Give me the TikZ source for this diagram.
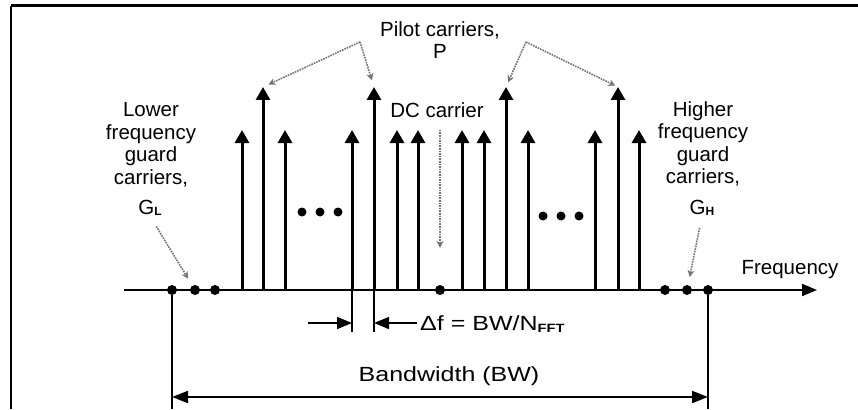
\documentclass[tikz,border=0pt]{standalone}
\usepackage{fontspec}
\setmainfont{Liberation Sans}
\usetikzlibrary{arrows.meta, positioning}
\definecolor{pointgray}{RGB}{115,115,115}
\newcommand{\lowidx}[1]{\raisebox{-1.5pt}{\fontsize{12}{12}\selectfont\bfseries #1}}

\begin{document}
\begin{tikzpicture}[x=1pt, y=-1pt,
    carrier/.style={line width=3pt, -{Triangle[length=13pt, width=14pt]}},
    pointer/.style={pointgray, densely dotted, line width=1.6pt, -{Stealth[length=7pt, width=7pt]}},
    lbl/.style={font=\fontsize{20.5}{22.5}\selectfont, align=center, inner sep=0pt},
    dot/.style={circle, fill, inner sep=0pt, minimum size=10pt}]
        \useasboundingbox (0,0) rectangle (858,409);
        %\draw [step=50, very thin, lightgray] (0,0) grid (858,409);
        \draw [line width=3pt] (11,6) -- (858,6);
        \draw [line width=2pt] (11,409) -- (11,6);

        % frequency axis
        \coordinate (f0) at (124,290);
        \coordinate (f1) at (817,290);
        \draw [line width=2pt, -{Triangle[length=15pt, width=12pt]}] (f0) -- (f1);
        \node [lbl] (freq) at (790,270) {Frequency};

        % data and pilot carriers
        \foreach \x/\h [count=\i] in {242/130, 263/87, 285/130, 352/130, 374/87, 397/130, 418/130,
            462/130, 484/130, 506/87, 528/130, 595/130, 618/87, 639/130}{
            \coordinate (c\i) at (\x,290);
            \coordinate (t\i) at (\x,\h);
            \draw [carrier] (c\i) -- (t\i);
        }
        \foreach \x in {302,320,338} \fill (\x,212) circle (4.5pt);
        \foreach \x in {543,561,579} \fill (\x,216) circle (4.5pt);

        % guard carriers and DC
        \foreach \x [count=\i] in {172,195,215} \node [dot] (gl\i) at (\x,290) {};
        \foreach \x [count=\i] in {665,687,708} \node [dot] (gh\i) at (\x,290) {};
        \node [dot] (dc) at (440,290) {};

        % labels
        \node [lbl] (pilot) at (440,40) {Pilot carriers,\\P};
        \coordinate (pa) at (360,42);
        \coordinate (pb) at (526,42);
        \draw [pointer, shorten >=6pt] (pa) -- (t2);
        \draw [pointer, shorten >=7pt] (pa) -- (t5);
        \draw [pointer, shorten >=5pt] (pb) -- (t10);
        \draw [pointer, shorten >=3pt] (pb) -- (t13);

        \node [lbl] (dclbl) at (437,110) {DC carrier};
        \draw [pointer, shorten <=12pt, shorten >=37pt] (dclbl.south -| dc) -- (dc);

        \node [lbl] (lower) at (151,145) {Lower\\frequency\\guard\\carriers,};
        \node [lbl] (gl) at (150,208) {G\lowidx{L}};
        \draw [pointer, shorten <=12pt, shorten >=8pt] (gl.south) -- (gl2);

        \node [lbl] (higher) at (703,144) {Higher\\frequency\\guard\\carriers,};
        \node [lbl] (gh) at (702,208) {G\lowidx{H}};
        \draw [pointer, shorten <=12pt, shorten >=8pt] (gh.south) -- (gh2);

        % carrier spacing
        \coordinate (s1) at (352,332);
        \coordinate (s2) at (374,332);
        \draw [line width=1.5pt] (c4) -- (s1);
        \draw [line width=1.5pt] (c5) -- (s2);
        \node [lbl, anchor=west] (df) at (420,324) {\scalebox{1.22}[1]{Δf = BW/N\lowidx{FFT}}};
        \draw [line width=1.5pt, -{Triangle[length=15pt, width=12pt]}] ([xshift=-44pt, yshift=9pt]s1) -- ([yshift=9pt]s1);
        \draw [line width=1.5pt, -{Triangle[length=15pt, width=12pt]}] ([xshift=-3pt, yshift=9pt]df.west |- s2) -- ([yshift=9pt]s2);

        % bandwidth
        \coordinate (b1) at (172,409);
        \coordinate (b2) at (708,409);
        \draw [line width=1.5pt] (gl1) -- (b1);
        \draw [line width=1.5pt] (gh3) -- (b2);
        \draw [line width=2pt, {Triangle[length=16pt, width=12pt]}-{Triangle[length=16pt, width=12pt]}] ([yshift=12pt]b1) -- ([yshift=12pt]b2);
        \node [lbl] (bw) at (449,376) {\scalebox{1.22}[1]{Bandwidth (BW)}};
    \end{tikzpicture}
\end{document}
